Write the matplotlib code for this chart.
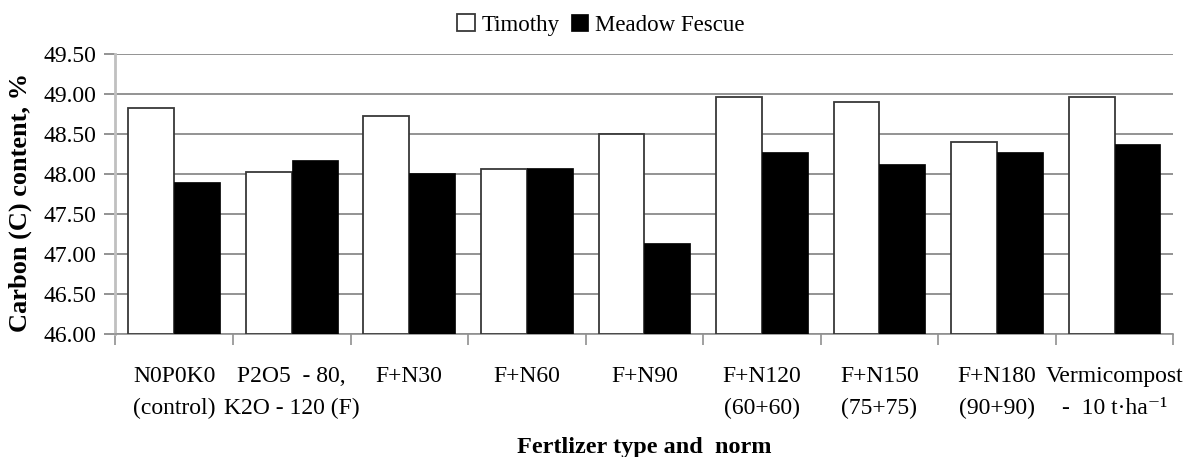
import numpy as np
import matplotlib
matplotlib.use("Agg")
import matplotlib.pyplot as plt

plt.rcParams['font.family'] = ['Liberation Serif', 'DejaVu Serif']

# chart data
categories = ["N0P0K0\n(control)", "P2O5  - 80,\nK2O - 120 (F)", "F+N30", "F+N60", "F+N90",
              "F+N120\n(60+60)", "F+N150\n(75+75)", "F+N180\n(90+90)", "Vermicompost\n-  10 t\u00b7ha\u207b\u00b9"]
timothy = [48.82, 48.03, 48.73, 48.06, 48.50, 48.96, 48.90, 48.40, 48.96]
meadow_fescue = [47.90, 48.18, 48.01, 48.08, 47.14, 48.28, 48.12, 48.28, 48.38]
y_ticks = [46.00, 46.50, 47.00, 47.50, 48.00, 48.50, 49.00, 49.50]

fig = plt.figure(figsize=(11.9, 4.57), dpi=100)
ax = fig.add_axes([0.097, 0.269, 0.889, 0.613])

x = np.arange(len(categories))
w = 0.39
ax.bar(x - w / 2, np.array(timothy) - 46, w, bottom=46, color='white',
       edgecolor='#383838', linewidth=1.3, label='Timothy', zorder=3)
ax.bar(x + w / 2, np.array(meadow_fescue) - 46, w, bottom=46, color='black',
       edgecolor='black', linewidth=0.5, label='Meadow Fescue', zorder=3)

ax.set_ylim(46, 49.5)
ax.set_yticks(y_ticks)
ax.set_yticklabels([f"{v:.2f}" for v in y_ticks], fontsize=17)
ax.yaxis.grid(True, color='#808080', linewidth=1.2, zorder=0)
ax.set_axisbelow(True)

ax.set_xlim(-0.5, len(categories) - 0.5)
ax.set_xticks(x)
ax.set_xticklabels(categories, fontsize=17, linespacing=1.7)
ax.set_xticks(np.arange(-0.5, len(categories), 1.0), minor=True)
ax.tick_params(axis='x', which='major', length=0, pad=23)
ax.tick_params(axis='x', which='minor', length=8, color='#909090', width=1.2)
ax.tick_params(axis='y', length=8, color='#808080', width=1.2, pad=6)

for s in ['top', 'right']:
    ax.spines[s].set_visible(False)
ax.spines['left'].set_color('#c0c0c0')
ax.spines['left'].set_linewidth(2)
ax.spines['bottom'].set_color('#909090')
ax.spines['bottom'].set_linewidth(1.2)

ax.set_ylabel("Carbon (C) content, %", fontsize=19, fontweight='bold')
ax.yaxis.set_label_coords(-0.079, 0.47)
ax.set_xlabel("Fertlizer type and  norm", fontsize=17.5, fontweight='bold', va='center')
ax.xaxis.set_label_coords(0.5, -0.405)

fig.legend(loc='center', bbox_to_anchor=(0.505, 0.945), ncol=2, frameon=False,
           fontsize=16.5, handlelength=0.75, handleheight=0.75, handletextpad=0.3,
           columnspacing=0.5)

fig.savefig("out.png", dpi=100)
